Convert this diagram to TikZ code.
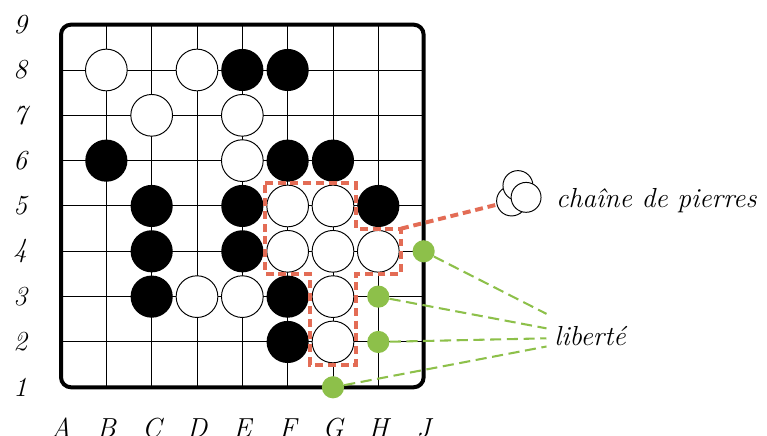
\documentclass[tikz,border=0pt]{standalone}
\usepackage{tikz}
\usepackage{xcolor}
\usetikzlibrary{positioning,calc}
\definecolor{chainred}{RGB}{227,108,85}
\definecolor{libgreen}{RGB}{141,192,74}

\begin{document}
\begin{tikzpicture}[font=\LARGE\itshape,
    whitestone/.style={draw, circle, fill=white, line width=0.6pt, minimum size=0.92cm, inner sep=0pt},
    blackstone/.style={circle, fill=black, minimum size=0.93cm, inner sep=0pt},
    smallstone/.style={draw, circle, fill=white, line width=0.6pt, minimum size=0.66cm, inner sep=0pt},
    liberty/.style={circle, fill=libgreen, minimum size=0.49cm, inner sep=0pt},
    chainline/.style={chainred, line width=2.5pt, dash pattern=on 5pt off 3pt},
    libline/.style={libgreen, line width=1.3pt, dash pattern=on 7pt off 3.5pt}]
    \useasboundingbox (-1.346,-1.074) rectangle (15.575,8.544);
    \foreach \i in {1,...,7} {
        \draw[line width=0.6pt] (\i,0) -- (\i,8);
        \draw[line width=0.6pt] (0,\i) -- (8,\i);
    }
    \draw[line width=2.5pt, rounded corners=0.22cm] (0,0) rectangle (8,8);
    \foreach \l [count=\i from 0] in {A,B,C,D,E,F,G,H,J}
        \node (col\l) at (\i,-0.9) {\l};
    \foreach \r [count=\i from 0] in {1,...,9}
        \node (row\r) at (-0.9,\i) {\r};
    \foreach \x/\y in {1/7,3/7,2/6,4/6,4/5,5/4,6/4,5/3,6/3,7/3,3/2,4/2,6/2,6/1}
        \node[whitestone] (w\x\y) at (\x,\y) {};
    \foreach \x/\y in {4/7,5/7,1/5,5/5,6/5,2/4,4/4,7/4,2/3,4/3,2/2,5/2,5/1}
        \node[blackstone] (b\x\y) at (\x,\y) {};
    \draw[chainline] (4.5,4.5) -- (6.5,4.5) -- (6.5,3.5) -- (7.5,3.5) -- (7.5,2.5) -- (6.5,2.5)
        -- (6.5,0.5) -- (5.5,0.5) -- (5.5,2.5) -- (4.5,2.5) -- cycle;
    \coordinate (corner) at (7.5,3.5);
    \node[smallstone] (chain1) at (9.94,4.11) {};
    \node[smallstone] (chain2) at (10.08,4.45) {};
    \node[smallstone] (chain3) at (10.26,4.19) {};
    \node[anchor=west] (chaintext) at (10.8,4.11) {cha\^{\i}ne de pierres};
    \draw[chainline] (corner) -- (chain1);
    \node[liberty] (lib1) at (8,3) {};
    \node[liberty] (lib2) at (7,2) {};
    \node[liberty] (lib3) at (7,1) {};
    \node[liberty] (lib4) at (6,0) {};
    \node[anchor=west] (libtext) at (10.76,1.12) {libert\'e};
    \coordinate (end1) at ($(libtext.west)+(-0.05,0.5)$);
    \coordinate (end2) at ($(libtext.west)+(-0.05,0.18)$);
    \coordinate (end3) at ($(libtext.west)+(-0.05,-0.04)$);
    \coordinate (end4) at ($(libtext.west)+(-0.05,-0.22)$);
    \draw[libline] (lib1) -- (end1);
    \draw[libline] (lib2) -- (end2);
    \draw[libline] (lib3) -- (end3);
    \draw[libline] (lib4) -- (end4);
\end{tikzpicture}
\end{document}
